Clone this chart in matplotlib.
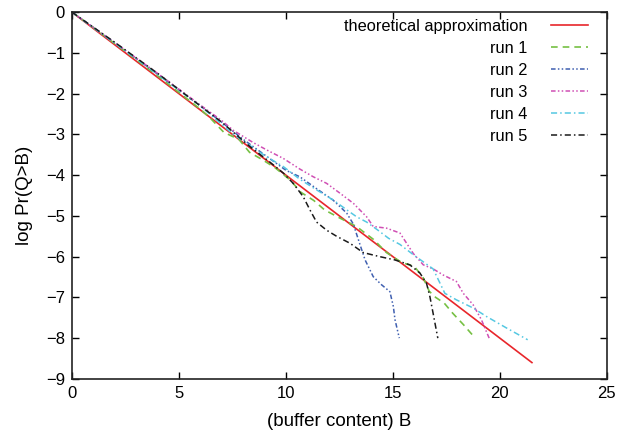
import numpy as np
import matplotlib
matplotlib.use('Agg')
import matplotlib.pyplot as plt

plt.rcParams['font.family'] = ['Liberation Sans', 'DejaVu Sans']

# theoretical approximation
theo_x = [0, 21.5]
theo_y = [0, -8.6]

# run 1 .. run 5
run1_x = [0, 1, 2, 3, 4, 5, 6, 6.5, 7.1, 7.8, 8.3, 8.9, 9.5, 10.2, 10.7, 11.3, 11.8, 12.4,
          13.3, 14.1, 14.7, 15.4, 16.0, 16.4, 16.7, 17.0, 17.4, 17.8, 18.3, 18.85]
run1_y = [0, -0.38, -0.77, -1.16, -1.56, -1.97, -2.38, -2.62, -2.95, -3.12, -3.44, -3.62,
          -3.82, -4.12, -4.42, -4.62, -4.85, -5.02, -5.26, -5.58, -5.9, -6.14, -6.24, -6.5,
          -6.85, -7.0, -7.14, -7.39, -7.67, -8.0]

run2_x = [0, 2, 4, 6, 7, 8, 9, 10, 10.65, 11.4, 12.2, 12.84, 13.15, 13.46, 13.7, 14.08,
          14.47, 14.86, 15.02, 15.1, 15.3]
run2_y = [0, -0.75, -1.52, -2.3, -2.7, -3.12, -3.5, -3.88, -4.04, -4.32, -4.61, -4.93,
          -5.2, -5.7, -6.08, -6.49, -6.69, -6.86, -7.22, -7.55, -8.0]

run3_x = [0, 2, 4, 6, 7, 7.54, 8.47, 9.1, 9.88, 10.65, 11.28, 11.9, 12.52, 13.15, 13.77,
          14.08, 14.7, 15.33, 15.95, 16.42, 16.88, 17.35, 17.97, 18.29, 18.75, 19.14, 19.5]
run3_y = [0, -0.75, -1.5, -2.28, -2.66, -2.9, -3.2, -3.38, -3.59, -3.85, -4.04, -4.2,
          -4.44, -4.69, -5.02, -5.26, -5.3, -5.42, -5.92, -6.2, -6.3, -6.45, -6.61, -6.9,
          -7.18, -7.55, -8.0]

run4_x = [0, 2, 4, 6, 7.54, 9.1, 9.88, 10.65, 11.43, 12.21, 12.84, 13.3, 13.77, 14.3,
          14.8, 15.33, 15.95, 16.4, 16.88, 17.43, 17.97, 18.75, 19.38, 20.31, 21.3]
run4_y = [0, -0.76, -1.53, -2.3, -3.0, -3.55, -3.79, -4.1, -4.36, -4.61, -4.85, -5.02,
          -5.15, -5.35, -5.55, -5.7, -5.95, -6.12, -6.3, -6.9, -7.06, -7.26, -7.47, -7.75,
          -8.04]

run5_x = [0, 2, 4, 6, 7, 8.32, 9.3, 9.88, 10.34, 10.81, 11.12, 11.43, 11.9, 12.37, 12.99,
          13.61, 14.39, 15.09, 15.79, 16.26, 16.57, 16.73, 16.88, 17.1]
run5_y = [0, -0.74, -1.5, -2.3, -2.7, -3.3, -3.7, -3.95, -4.2, -4.53, -4.85, -5.15, -5.35,
          -5.5, -5.67, -5.9, -6.0, -6.08, -6.2, -6.4, -6.65, -6.98, -7.39, -8.0]

fig = plt.figure(figsize=(6.23, 4.36), dpi=100)
ax = fig.add_axes([0.1156, 0.131, 0.8584, 0.841])

ax.plot(theo_x, theo_y, color='#e8262b', lw=1.2, label='theoretical approximation')
ax.plot(run1_x, run1_y, color='#76c043', lw=1.2, dashes=(4, 3), label='run 1')
ax.plot(run2_x, run2_y, color='#3f5fb0', lw=1.1, dashes=(3, 1.5, 1, 1.5, 1, 1.5), label='run 2')
ax.plot(run3_x, run3_y, color='#d04fb4', lw=1.1, dashes=(3, 1.5, 1, 1.5, 1, 1.5), label='run 3')
ax.plot(run4_x, run4_y, color='#55c8e2', lw=1.1, dashes=(4, 2, 1, 2), label='run 4')
ax.plot(run5_x, run5_y, color='#1a1a1a', lw=1.1, dashes=(4, 2, 1, 2), label='run 5')

ax.set_xlim(0, 25)
ax.set_ylim(-9, 0)
ax.set_xticks(np.arange(0, 26, 5))
ax.set_yticks(np.arange(-9, 1, 1))
ax.tick_params(direction='in', length=5, width=1, top=True, right=True,
               labelsize=12, pad=5)
for s in ax.spines.values():
    s.set_linewidth(1.2)
    s.set_color('#222222')

ax.set_xlabel('(buffer content) B', fontsize=13.5, labelpad=9)
ax.set_ylabel('log Pr(Q>B)', fontsize=13.5, labelpad=9)

leg = ax.legend(loc='upper right', frameon=False, markerfirst=False, fontsize=11.8,
                handlelength=2.25, handletextpad=1.45, labelspacing=0.42,
                borderpad=0, borderaxespad=0, bbox_to_anchor=(0.9645, 0.981))
for t in leg.get_texts():
    t.set_ha('right')

fig.savefig('out.png', dpi=100)
